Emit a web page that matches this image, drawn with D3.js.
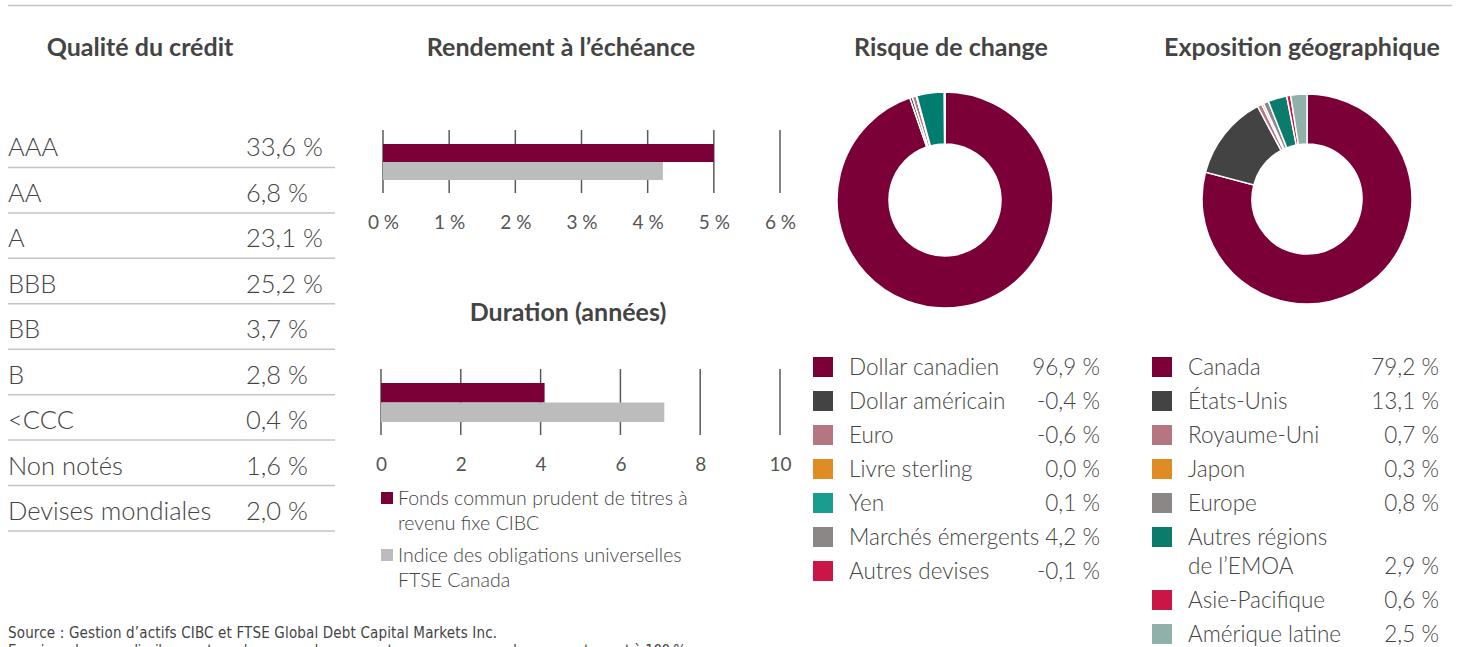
<!DOCTYPE html>
<html>
<head>
<meta charset="utf-8">
<script src="https://cdn.jsdelivr.net/npm/d3@7"></script>
<style>
  body { margin: 0; background: #fff; }
  svg text { font-family: Lato, "Open Sans", sans-serif; fill: #444; }
</style>
</head>
<body>
<div id="wrapper"></div>
<script>
'use strict';

// credit quality table
const creditLabels = ['AAA', 'AA', 'A', 'BBB', 'BB', 'B', '<CCC', 'Non notés', 'Devises mondiales'];
const creditValues = [33.6, 6.8, 23.1, 25.2, 3.7, 2.8, 0.4, 1.6, 2.0];

// bar charts
const seriesNames = [
  ['Fonds commun prudent de titres à', 'revenu fixe CIBC'],
  ['Indice des obligations universelles', 'FTSE Canada'],
];
const yieldValues = [5.0, 4.23];
const yieldTicks = [0, 1, 2, 3, 4, 5, 6];
const durationValues = [4.1, 7.1];
const durationTicks = [0, 2, 4, 6, 8, 10];

// currency exposure
const currencyLabels = ['Dollar canadien', 'Dollar américain', 'Euro', 'Livre sterling', 'Yen', 'Marchés émergents', 'Autres devises'];
const currencyValues = [96.9, -0.4, -0.6, 0.0, 0.1, 4.2, -0.1];

// geographic exposure
const geoLabels = ['Canada', 'États-Unis', 'Royaume-Uni', 'Japon', 'Europe', 'Autres régions\nde l’EMOA', 'Asie-Pacifique', 'Amérique latine'];
const geoValues = [79.2, 13.1, 0.7, 0.3, 0.8, 2.9, 0.6, 2.5];

const maroon = '#7a0037';
const grey = '#bbbcbb';
const currencyLegendColors = ['#7a0037', '#424342', '#b57682', '#e08c25', '#1a9d8e', '#8c8787', '#cc1547'];
const currencySliceColors = ['#7a0037', '#424342', '#b57682', '#e08c25', '#1a9d8e', '#007d6e', '#cc1547'];
const geoColors = ['#7a0037', '#424342', '#b57682', '#e08c25', '#8c8787', '#0b7b6b', '#cc1547', '#8fb1aa'];

const fmt = v => d3.format('.1f')(v).replace('.', ',').replace('−', '-') + ' %';

const width = 1460, height = 647;
const svg = d3.select('#wrapper').append('svg')
  .attr('width', width)
  .attr('height', height);

// top rule
svg.append('line')
  .attr('x1', 8).attr('x2', 1452)
  .attr('y1', 5.5).attr('y2', 5.5)
  .attr('stroke', '#c4c4c4').attr('stroke-width', 1.5);

function title (x, y, text) {
  svg.append('text')
    .attr('x', x).attr('y', y)
    .attr('text-anchor', 'middle')
    .style('font-size', '25px')
    .style('font-weight', 700)
    .text(text);
}

title(140, 56, 'Qualité du crédit');
title(561, 56, 'Rendement à l’échéance');
title(568, 321, 'Duration (années)');
title(951, 56, 'Risque de change');
title(1302, 56, 'Exposition géographique');

// ---- credit quality table
const rowScale = d3.scaleBand()
  .domain(creditLabels)
  .range([122, 531]);

const rows = svg.append('g').selectAll('g')
  .data(creditLabels)
  .join('g')
  .attr('transform', d => `translate(0, ${rowScale(d)})`);

rows.append('text')
  .attr('x', 8)
  .attr('y', rowScale.bandwidth() - 11)
  .style('font-size', '25.5px')
  .style('font-weight', 300)
  .text(d => d);

rows.append('text')
  .attr('x', 246)
  .attr('y', rowScale.bandwidth() - 11)
  .style('font-size', '25.5px')
  .style('font-weight', 300)
  .text((d, i) => fmt(creditValues[i]));

rows.append('line')
  .attr('x1', 8).attr('x2', 335)
  .attr('y1', rowScale.bandwidth()).attr('y2', rowScale.bandwidth())
  .attr('stroke', '#c4c4c4').attr('stroke-width', 1.5);

// ---- bar charts
function barChart ({ values, ticks, domain, x0, x1, top, bottom, barTop, barH, labelY, tickFmt }) {
  const xScale = d3.scaleLinear().domain(domain).range([x0, x1]);
  const g = svg.append('g');

  g.selectAll('line.grid')
    .data(ticks)
    .join('line')
    .attr('class', 'grid')
    .attr('x1', d => xScale(d)).attr('x2', d => xScale(d))
    .attr('y1', top).attr('y2', bottom)
    .attr('stroke', '#5a5a5a').attr('stroke-width', 1.5);

  g.selectAll('rect')
    .data(values)
    .join('rect')
    .attr('x', xScale(0))
    .attr('y', (d, i) => barTop + i * barH)
    .attr('width', d => xScale(d) - xScale(0))
    .attr('height', barH)
    .attr('fill', (d, i) => i === 0 ? maroon : grey);

  const axis = d3.axisBottom(xScale)
    .tickValues(ticks)
    .tickSize(0)
    .tickFormat(tickFmt);

  g.append('g')
    .attr('transform', `translate(0, ${labelY})`)
    .call(axis)
    .call(a => a.select('.domain').remove())
    .call(a => a.selectAll('text')
      .attr('dy', 0)
      .attr('y', 0)
      .style('font-size', '19px')
      .style('font-weight', 400)
      .style('fill', '#555'));
}

barChart({
  values: yieldValues, ticks: yieldTicks, domain: [0, 6],
  x0: 383, x1: 780, top: 130, bottom: 193, barTop: 144, barH: 18, labelY: 229,
  tickFmt: d => d + ' %',
});

barChart({
  values: durationValues, ticks: durationTicks, domain: [0, 10],
  x0: 381, x1: 780, top: 369, bottom: 435, barTop: 383, barH: 19.5, labelY: 471,
  tickFmt: d => d,
});

// bar legend
const barLegend = svg.append('g').selectAll('g')
  .data(seriesNames)
  .join('g')
  .attr('transform', (d, i) => `translate(381, ${490 + i * 57})`);

barLegend.append('rect')
  .attr('width', 12).attr('height', 12)
  .attr('y', 2)
  .attr('fill', (d, i) => i === 0 ? maroon : grey);

barLegend.append('text')
  .style('font-size', '19.5px')
  .style('font-weight', 300)
  .selectAll('tspan')
  .data(d => d)
  .join('tspan')
  .attr('x', 17)
  .attr('y', (d, i) => 15 + i * 25)
  .text(d => d);

// ---- donuts
function donut ({ values, colors, cx, cy, outer, inner }) {
  const pie = d3.pie()
    .sort(null)
    .value(d => Math.abs(d));
  const arc = d3.arc().innerRadius(inner).outerRadius(outer);

  svg.append('g')
    .attr('transform', `translate(${cx}, ${cy})`)
    .selectAll('path')
    .data(pie(values))
    .join('path')
    .attr('d', arc)
    .attr('fill', (d, i) => colors[i])
    .attr('stroke', '#fff')
    .attr('stroke-width', 1.5);
}

donut({ values: currencyValues, colors: currencySliceColors, cx: 945, cy: 200, outer: 108, inner: 56 });
donut({ values: geoValues, colors: geoColors, cx: 1307, cy: 199, outer: 105, inner: 55 });

function legend ({ labels, values, colors, x, xValue, y0 }) {
  let y = y0;
  const g = svg.append('g');
  labels.forEach((label, i) => {
    const lines = label.split('\n');
    const row = g.append('g').attr('transform', `translate(0, ${y})`);
    row.append('rect')
      .attr('x', x).attr('y', -10)
      .attr('width', 20).attr('height', 20)
      .attr('fill', colors[i]);
    row.append('text')
      .style('font-size', '22.5px')
      .style('font-weight', 300)
      .selectAll('tspan')
      .data(lines)
      .join('tspan')
      .attr('x', x + 36)
      .attr('y', (d, j) => 8 + j * 29)
      .text(d => d);
    row.append('text')
      .attr('x', xValue)
      .attr('y', 8 + (lines.length - 1) * 29)
      .attr('text-anchor', 'end')
      .style('font-size', '22.5px')
      .style('font-weight', 300)
      .text(fmt(values[i]));
    y += 34 + (lines.length - 1) * 29;
  });
}

legend({ labels: currencyLabels, values: currencyValues, colors: currencyLegendColors, x: 813, xValue: 1100, y0: 367 });
legend({ labels: geoLabels, values: geoValues, colors: geoColors, x: 1152, xValue: 1439, y0: 367 });

// footnotes
svg.append('text')
  .attr('x', 8).attr('y', 638)
  .style('font-family', '"Liberation Sans Narrow", "DejaVu Sans Condensed", sans-serif')
  .style('font-size', '15px')
  .attr('textLength', 489)
  .text('Source : Gestion d’actifs CIBC et FTSE Global Debt Capital Markets Inc.');

svg.append('text')
  .attr('x', 8).attr('y', 656)
  .style('font-family', '"Liberation Sans Narrow", "DejaVu Sans Condensed", sans-serif')
  .style('font-size', '15px')
  .attr('textLength', 682)
  .text('En raison des arrondis, il se peut que la somme des pourcentages ne corresponde pas exactement à 100 %.');
</script>
</body>
</html>
